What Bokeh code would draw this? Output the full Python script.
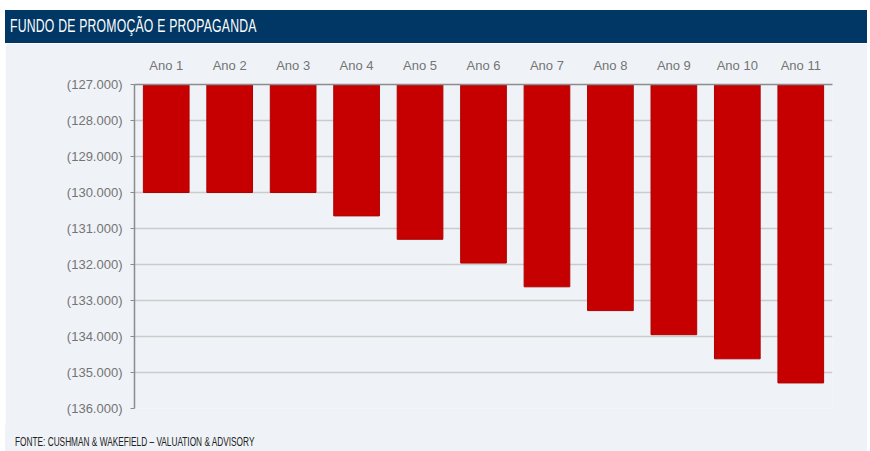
from bokeh.plotting import figure
from bokeh.models import Range1d, FixedTicker, Div
from bokeh.layouts import column
from bokeh.embed import file_html
from bokeh.resources import INLINE

categories = ["Ano 1", "Ano 2", "Ano 3", "Ano 4", "Ano 5", "Ano 6",
              "Ano 7", "Ano 8", "Ano 9", "Ano 10", "Ano 11"]
values = [-130000, -130000, -130000, -130650, -131300, -131960,
          -132620, -133280, -133950, -134620, -135290]
tick_values = [-127000, -128000, -129000, -130000, -131000, -132000,
               -133000, -134000, -135000, -136000]
tick_labels = ["(127.000)", "(128.000)", "(129.000)", "(130.000)", "(131.000)",
               "(132.000)", "(133.000)", "(134.000)", "(135.000)", "(136.000)"]
title_text = "FUNDO DE PROMOÇÃO E PROPAGANDA"
source_text = "FONTE: CUSHMAN &amp; WAKEFIELD \u2013 VALUATION &amp; ADVISORY"

PANEL = "#eff3f7"
NAVY = "#003764"
FONT = "Liberation Sans"
W = 862

header = Div(
    text=(f'<div style="background:{NAVY};width:{W}px;height:33px;overflow:hidden;padding-left:5px;box-sizing:border-box;">'
          f'<span style="display:inline-block;color:#ffffff;font-family:\'Liberation Sans\',Arial,sans-serif;'
          f'font-size:18px;line-height:33px;white-space:nowrap;letter-spacing:0.3px;'
          f'transform:scaleX(0.68);transform-origin:0 50%;">{title_text}</span></div>'),
    width=W, height=33, margin=(10, 0, 0, 5),
)

p = figure(x_range=categories, y_range=Range1d(-136000, -127000),
           width=W, height=382, output_backend="svg", toolbar_location=None,
           x_axis_location="above",
           min_border_left=129, min_border_right=35, min_border_top=41, min_border_bottom=17,
           background_fill_color=PANEL, border_fill_color=PANEL, outline_line_color=None,
           margin=(0, 0, 0, 5))

p.vbar(x=categories, top=tick_values[0], bottom=values, width=0.72,
       fill_color="#c60000", line_color="#b00000", line_width=1)

p.yaxis.ticker = FixedTicker(ticks=tick_values)
p.yaxis.major_label_overrides = {v: l for v, l in zip(tick_values, tick_labels)}
p.yaxis.axis_line_color = "#8c8c8c"
p.yaxis.axis_line_width = 1.5
p.yaxis.major_tick_line_color = "#8c8c8c"
p.yaxis.major_tick_out = 4
p.yaxis.major_tick_in = 0
p.yaxis.minor_tick_line_color = None
p.yaxis.major_label_text_color = "#747474"
p.yaxis.major_label_text_font = FONT
p.yaxis.major_label_text_font_size = "13px"
p.yaxis.major_label_standoff = 8

p.xaxis.axis_line_color = "#8c8c8c"
p.xaxis.axis_line_width = 1.5
p.xaxis.major_tick_line_color = None
p.xaxis.major_label_text_color = "#747474"
p.xaxis.major_label_text_font = FONT
p.xaxis.major_label_text_font_size = "13px"
p.xaxis.major_label_standoff = 6

p.xgrid.grid_line_color = None
p.ygrid.ticker = FixedTicker(ticks=tick_values)
p.ygrid.grid_line_color = "#cbcbcb"
p.ygrid.grid_line_width = 1.5

footer = Div(
    text=(f'<div style="background:{PANEL};width:{W}px;height:26px;overflow:hidden;padding-left:10px;box-sizing:border-box;">'
          f'<span style="display:inline-block;color:#222222;font-family:\'Liberation Sans\',Arial,sans-serif;'
          f'font-size:12px;line-height:12px;margin-top:11px;white-space:nowrap;'
          f'transform:scaleX(0.69);transform-origin:0 50%;">{source_text}</span></div>'),
    width=W, height=26, margin=(0, 0, 0, 5),
)

layout = column(header, p, footer, spacing=0)
open("out.html", "w").write(file_html(layout, INLINE))
